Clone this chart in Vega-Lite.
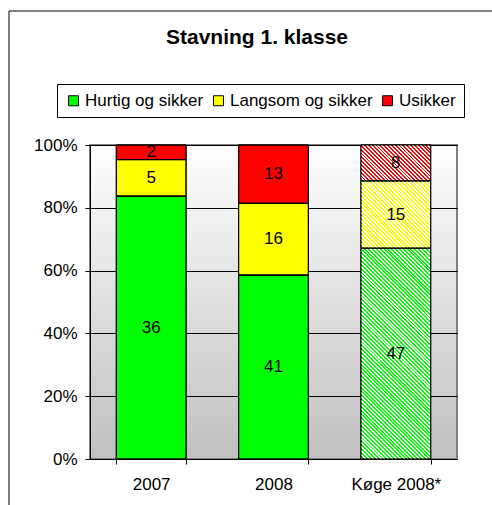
{
  "$schema": "https://vega.github.io/schema/vega-lite/v6.json",
  "width": 367,
  "height": 314,
  "autosize": {"type": "none"},
  "padding": {"left": 90, "top": 145, "right": 35, "bottom": 46},
  "background": "white",
  "config": {"font": "Liberation Sans"},
  "title": {"text": "Stavning 1. klasse", "fontSize": 21, "fontWeight": "bold", "color": "black", "anchor": "middle", "frame": "group", "dx": -16.5, "offset": -38},
  "data": {"values": [
    {"year": "2007", "category": "Hurtig og sikker", "value": 36},
    {"year": "2007", "category": "Langsom og sikker", "value": 5},
    {"year": "2007", "category": "Usikker", "value": 2},
    {"year": "2008", "category": "Hurtig og sikker", "value": 41},
    {"year": "2008", "category": "Langsom og sikker", "value": 16},
    {"year": "2008", "category": "Usikker", "value": 13},
    {"year": "Køge 2008*", "category": "Hurtig og sikker", "value": 47},
    {"year": "Køge 2008*", "category": "Langsom og sikker", "value": 15},
    {"year": "Køge 2008*", "category": "Usikker", "value": 8}
  ]},
  "view": {
    "fill": {"gradient": "linear", "x1": 0, "y1": 0, "x2": 0, "y2": 1, "stops": [{"offset": 0, "color": "#ffffff"}, {"offset": 1, "color": "#c0c0c0"}]},
    "stroke": "#808080",
    "strokeWidth": 2
  },
  "layer": [
    {
      "mark": {"type": "bar", "stroke": "black", "strokeWidth": 1},
      "encoding": {
        "x": {"field": "year", "type": "nominal", "sort": null, "title": null, "scale": {"domain": ["2007", "2008", "Køge 2008*"], "paddingInner": 0.43, "paddingOuter": 0.215},
          "axis": {"title": null, "labelAngle": 0, "tickBand": "extent", "tickSize": 5, "tickColor": "black", "domainColor": "black", "labelFontSize": 17, "labelColor": "black", "labelPadding": 12, "grid": false}},
        "y": {"field": "value", "type": "quantitative", "stack": "normalize", "title": null, "scale": {"domain": [0, 1], "nice": false},
          "axis": {"title": null, "format": ".0%", "values": [0, 0.1, 0.2, 0.3, 0.4, 0.5, 0.6, 0.7, 0.8, 0.9, 1], "tickCount": 10, "labelOverlap": false, "tickSize": 5, "tickColor": "black", "domainColor": "black", "labelFontSize": 17, "labelColor": "black", "labelPadding": 8, "grid": true, "gridOpacity": 1, "gridColor": "#000000", "gridWidth": 1}},
        "color": {"field": "category", "type": "nominal",
          "scale": {"domain": ["Hurtig og sikker", "Langsom og sikker", "Usikker"], "range": ["#00ff00", "#ffff00", "#ff0000"]},
          "legend": {"orient": "none", "legendX": -33, "legendY": -61, "direction": "horizontal", "title": null, "strokeColor": "black", "fillColor": "white", "padding": 8, "symbolType": "square", "symbolSize": 100, "symbolStrokeColor": "black", "symbolStrokeWidth": 1, "labelFontSize": 17, "labelColor": "black", "labelOffset": 3, "columnPadding": 6}},
        "order": {"field": "category", "type": "nominal", "sort": "ascending"}
      }
    },
    {
      "transform": [
        {"filter": "datum.year === 'Køge 2008*'"},
        {"aggregate": [{"op": "sum", "field": "value", "as": "total"}], "groupby": ["year"]}
      ],
      "mark": {"type": "bar", "fill": {"gradient": "linear", "x1": 0, "y1": 1, "x2": 0.2587, "y2": -0.1646, "stops": [
{"offset":0,"color":"#fff"},{"offset":0.005,"color":"#fff"},{"offset":0.005,"color":"rgba(255,255,255,0)"},{"offset":0.01,"color":"rgba(255,255,255,0)"},
{"offset":0.01,"color":"#fff"},{"offset":0.015,"color":"#fff"},{"offset":0.015,"color":"rgba(255,255,255,0)"},{"offset":0.02,"color":"rgba(255,255,255,0)"},
{"offset":0.02,"color":"#fff"},{"offset":0.025,"color":"#fff"},{"offset":0.025,"color":"rgba(255,255,255,0)"},{"offset":0.03,"color":"rgba(255,255,255,0)"},
{"offset":0.03,"color":"#fff"},{"offset":0.035,"color":"#fff"},{"offset":0.035,"color":"rgba(255,255,255,0)"},{"offset":0.04,"color":"rgba(255,255,255,0)"},
{"offset":0.04,"color":"#fff"},{"offset":0.045,"color":"#fff"},{"offset":0.045,"color":"rgba(255,255,255,0)"},{"offset":0.05,"color":"rgba(255,255,255,0)"},
{"offset":0.05,"color":"#fff"},{"offset":0.055,"color":"#fff"},{"offset":0.055,"color":"rgba(255,255,255,0)"},{"offset":0.06,"color":"rgba(255,255,255,0)"},
{"offset":0.06,"color":"#fff"},{"offset":0.065,"color":"#fff"},{"offset":0.065,"color":"rgba(255,255,255,0)"},{"offset":0.07,"color":"rgba(255,255,255,0)"},
{"offset":0.07,"color":"#fff"},{"offset":0.075,"color":"#fff"},{"offset":0.075,"color":"rgba(255,255,255,0)"},{"offset":0.08,"color":"rgba(255,255,255,0)"},
{"offset":0.08,"color":"#fff"},{"offset":0.085,"color":"#fff"},{"offset":0.085,"color":"rgba(255,255,255,0)"},{"offset":0.09,"color":"rgba(255,255,255,0)"},
{"offset":0.09,"color":"#fff"},{"offset":0.095,"color":"#fff"},{"offset":0.095,"color":"rgba(255,255,255,0)"},{"offset":0.1,"color":"rgba(255,255,255,0)"},
{"offset":0.1,"color":"#fff"},{"offset":0.105,"color":"#fff"},{"offset":0.105,"color":"rgba(255,255,255,0)"},{"offset":0.11,"color":"rgba(255,255,255,0)"},
{"offset":0.11,"color":"#fff"},{"offset":0.115,"color":"#fff"},{"offset":0.115,"color":"rgba(255,255,255,0)"},{"offset":0.12,"color":"rgba(255,255,255,0)"},
{"offset":0.12,"color":"#fff"},{"offset":0.125,"color":"#fff"},{"offset":0.125,"color":"rgba(255,255,255,0)"},{"offset":0.13,"color":"rgba(255,255,255,0)"},
{"offset":0.13,"color":"#fff"},{"offset":0.135,"color":"#fff"},{"offset":0.135,"color":"rgba(255,255,255,0)"},{"offset":0.14,"color":"rgba(255,255,255,0)"},
{"offset":0.14,"color":"#fff"},{"offset":0.145,"color":"#fff"},{"offset":0.145,"color":"rgba(255,255,255,0)"},{"offset":0.15,"color":"rgba(255,255,255,0)"},
{"offset":0.15,"color":"#fff"},{"offset":0.155,"color":"#fff"},{"offset":0.155,"color":"rgba(255,255,255,0)"},{"offset":0.16,"color":"rgba(255,255,255,0)"},
{"offset":0.16,"color":"#fff"},{"offset":0.165,"color":"#fff"},{"offset":0.165,"color":"rgba(255,255,255,0)"},{"offset":0.17,"color":"rgba(255,255,255,0)"},
{"offset":0.17,"color":"#fff"},{"offset":0.175,"color":"#fff"},{"offset":0.175,"color":"rgba(255,255,255,0)"},{"offset":0.18,"color":"rgba(255,255,255,0)"},
{"offset":0.18,"color":"#fff"},{"offset":0.185,"color":"#fff"},{"offset":0.185,"color":"rgba(255,255,255,0)"},{"offset":0.19,"color":"rgba(255,255,255,0)"},
{"offset":0.19,"color":"#fff"},{"offset":0.195,"color":"#fff"},{"offset":0.195,"color":"rgba(255,255,255,0)"},{"offset":0.2,"color":"rgba(255,255,255,0)"},
{"offset":0.2,"color":"#fff"},{"offset":0.205,"color":"#fff"},{"offset":0.205,"color":"rgba(255,255,255,0)"},{"offset":0.21,"color":"rgba(255,255,255,0)"},
{"offset":0.21,"color":"#fff"},{"offset":0.215,"color":"#fff"},{"offset":0.215,"color":"rgba(255,255,255,0)"},{"offset":0.22,"color":"rgba(255,255,255,0)"},
{"offset":0.22,"color":"#fff"},{"offset":0.225,"color":"#fff"},{"offset":0.225,"color":"rgba(255,255,255,0)"},{"offset":0.23,"color":"rgba(255,255,255,0)"},
{"offset":0.23,"color":"#fff"},{"offset":0.235,"color":"#fff"},{"offset":0.235,"color":"rgba(255,255,255,0)"},{"offset":0.24,"color":"rgba(255,255,255,0)"},
{"offset":0.24,"color":"#fff"},{"offset":0.245,"color":"#fff"},{"offset":0.245,"color":"rgba(255,255,255,0)"},{"offset":0.25,"color":"rgba(255,255,255,0)"},
{"offset":0.25,"color":"#fff"},{"offset":0.255,"color":"#fff"},{"offset":0.255,"color":"rgba(255,255,255,0)"},{"offset":0.26,"color":"rgba(255,255,255,0)"},
{"offset":0.26,"color":"#fff"},{"offset":0.265,"color":"#fff"},{"offset":0.265,"color":"rgba(255,255,255,0)"},{"offset":0.27,"color":"rgba(255,255,255,0)"},
{"offset":0.27,"color":"#fff"},{"offset":0.275,"color":"#fff"},{"offset":0.275,"color":"rgba(255,255,255,0)"},{"offset":0.28,"color":"rgba(255,255,255,0)"},
{"offset":0.28,"color":"#fff"},{"offset":0.285,"color":"#fff"},{"offset":0.285,"color":"rgba(255,255,255,0)"},{"offset":0.29,"color":"rgba(255,255,255,0)"},
{"offset":0.29,"color":"#fff"},{"offset":0.295,"color":"#fff"},{"offset":0.295,"color":"rgba(255,255,255,0)"},{"offset":0.3,"color":"rgba(255,255,255,0)"},
{"offset":0.3,"color":"#fff"},{"offset":0.305,"color":"#fff"},{"offset":0.305,"color":"rgba(255,255,255,0)"},{"offset":0.31,"color":"rgba(255,255,255,0)"},
{"offset":0.31,"color":"#fff"},{"offset":0.315,"color":"#fff"},{"offset":0.315,"color":"rgba(255,255,255,0)"},{"offset":0.32,"color":"rgba(255,255,255,0)"},
{"offset":0.32,"color":"#fff"},{"offset":0.325,"color":"#fff"},{"offset":0.325,"color":"rgba(255,255,255,0)"},{"offset":0.33,"color":"rgba(255,255,255,0)"},
{"offset":0.33,"color":"#fff"},{"offset":0.335,"color":"#fff"},{"offset":0.335,"color":"rgba(255,255,255,0)"},{"offset":0.34,"color":"rgba(255,255,255,0)"},
{"offset":0.34,"color":"#fff"},{"offset":0.345,"color":"#fff"},{"offset":0.345,"color":"rgba(255,255,255,0)"},{"offset":0.35,"color":"rgba(255,255,255,0)"},
{"offset":0.35,"color":"#fff"},{"offset":0.355,"color":"#fff"},{"offset":0.355,"color":"rgba(255,255,255,0)"},{"offset":0.36,"color":"rgba(255,255,255,0)"},
{"offset":0.36,"color":"#fff"},{"offset":0.365,"color":"#fff"},{"offset":0.365,"color":"rgba(255,255,255,0)"},{"offset":0.37,"color":"rgba(255,255,255,0)"},
{"offset":0.37,"color":"#fff"},{"offset":0.375,"color":"#fff"},{"offset":0.375,"color":"rgba(255,255,255,0)"},{"offset":0.38,"color":"rgba(255,255,255,0)"},
{"offset":0.38,"color":"#fff"},{"offset":0.385,"color":"#fff"},{"offset":0.385,"color":"rgba(255,255,255,0)"},{"offset":0.39,"color":"rgba(255,255,255,0)"},
{"offset":0.39,"color":"#fff"},{"offset":0.395,"color":"#fff"},{"offset":0.395,"color":"rgba(255,255,255,0)"},{"offset":0.4,"color":"rgba(255,255,255,0)"},
{"offset":0.4,"color":"#fff"},{"offset":0.405,"color":"#fff"},{"offset":0.405,"color":"rgba(255,255,255,0)"},{"offset":0.41,"color":"rgba(255,255,255,0)"},
{"offset":0.41,"color":"#fff"},{"offset":0.415,"color":"#fff"},{"offset":0.415,"color":"rgba(255,255,255,0)"},{"offset":0.42,"color":"rgba(255,255,255,0)"},
{"offset":0.42,"color":"#fff"},{"offset":0.425,"color":"#fff"},{"offset":0.425,"color":"rgba(255,255,255,0)"},{"offset":0.43,"color":"rgba(255,255,255,0)"},
{"offset":0.43,"color":"#fff"},{"offset":0.435,"color":"#fff"},{"offset":0.435,"color":"rgba(255,255,255,0)"},{"offset":0.44,"color":"rgba(255,255,255,0)"},
{"offset":0.44,"color":"#fff"},{"offset":0.445,"color":"#fff"},{"offset":0.445,"color":"rgba(255,255,255,0)"},{"offset":0.45,"color":"rgba(255,255,255,0)"},
{"offset":0.45,"color":"#fff"},{"offset":0.455,"color":"#fff"},{"offset":0.455,"color":"rgba(255,255,255,0)"},{"offset":0.46,"color":"rgba(255,255,255,0)"},
{"offset":0.46,"color":"#fff"},{"offset":0.465,"color":"#fff"},{"offset":0.465,"color":"rgba(255,255,255,0)"},{"offset":0.47,"color":"rgba(255,255,255,0)"},
{"offset":0.47,"color":"#fff"},{"offset":0.475,"color":"#fff"},{"offset":0.475,"color":"rgba(255,255,255,0)"},{"offset":0.48,"color":"rgba(255,255,255,0)"},
{"offset":0.48,"color":"#fff"},{"offset":0.485,"color":"#fff"},{"offset":0.485,"color":"rgba(255,255,255,0)"},{"offset":0.49,"color":"rgba(255,255,255,0)"},
{"offset":0.49,"color":"#fff"},{"offset":0.495,"color":"#fff"},{"offset":0.495,"color":"rgba(255,255,255,0)"},{"offset":0.5,"color":"rgba(255,255,255,0)"},
{"offset":0.5,"color":"#fff"},{"offset":0.505,"color":"#fff"},{"offset":0.505,"color":"rgba(255,255,255,0)"},{"offset":0.51,"color":"rgba(255,255,255,0)"},
{"offset":0.51,"color":"#fff"},{"offset":0.515,"color":"#fff"},{"offset":0.515,"color":"rgba(255,255,255,0)"},{"offset":0.52,"color":"rgba(255,255,255,0)"},
{"offset":0.52,"color":"#fff"},{"offset":0.525,"color":"#fff"},{"offset":0.525,"color":"rgba(255,255,255,0)"},{"offset":0.53,"color":"rgba(255,255,255,0)"},
{"offset":0.53,"color":"#fff"},{"offset":0.535,"color":"#fff"},{"offset":0.535,"color":"rgba(255,255,255,0)"},{"offset":0.54,"color":"rgba(255,255,255,0)"},
{"offset":0.54,"color":"#fff"},{"offset":0.545,"color":"#fff"},{"offset":0.545,"color":"rgba(255,255,255,0)"},{"offset":0.55,"color":"rgba(255,255,255,0)"},
{"offset":0.55,"color":"#fff"},{"offset":0.555,"color":"#fff"},{"offset":0.555,"color":"rgba(255,255,255,0)"},{"offset":0.56,"color":"rgba(255,255,255,0)"},
{"offset":0.56,"color":"#fff"},{"offset":0.565,"color":"#fff"},{"offset":0.565,"color":"rgba(255,255,255,0)"},{"offset":0.57,"color":"rgba(255,255,255,0)"},
{"offset":0.57,"color":"#fff"},{"offset":0.575,"color":"#fff"},{"offset":0.575,"color":"rgba(255,255,255,0)"},{"offset":0.58,"color":"rgba(255,255,255,0)"},
{"offset":0.58,"color":"#fff"},{"offset":0.585,"color":"#fff"},{"offset":0.585,"color":"rgba(255,255,255,0)"},{"offset":0.59,"color":"rgba(255,255,255,0)"},
{"offset":0.59,"color":"#fff"},{"offset":0.595,"color":"#fff"},{"offset":0.595,"color":"rgba(255,255,255,0)"},{"offset":0.6,"color":"rgba(255,255,255,0)"},
{"offset":0.6,"color":"#fff"},{"offset":0.605,"color":"#fff"},{"offset":0.605,"color":"rgba(255,255,255,0)"},{"offset":0.61,"color":"rgba(255,255,255,0)"},
{"offset":0.61,"color":"#fff"},{"offset":0.615,"color":"#fff"},{"offset":0.615,"color":"rgba(255,255,255,0)"},{"offset":0.62,"color":"rgba(255,255,255,0)"},
{"offset":0.62,"color":"#fff"},{"offset":0.625,"color":"#fff"},{"offset":0.625,"color":"rgba(255,255,255,0)"},{"offset":0.63,"color":"rgba(255,255,255,0)"},
{"offset":0.63,"color":"#fff"},{"offset":0.635,"color":"#fff"},{"offset":0.635,"color":"rgba(255,255,255,0)"},{"offset":0.64,"color":"rgba(255,255,255,0)"},
{"offset":0.64,"color":"#fff"},{"offset":0.645,"color":"#fff"},{"offset":0.645,"color":"rgba(255,255,255,0)"},{"offset":0.65,"color":"rgba(255,255,255,0)"},
{"offset":0.65,"color":"#fff"},{"offset":0.655,"color":"#fff"},{"offset":0.655,"color":"rgba(255,255,255,0)"},{"offset":0.66,"color":"rgba(255,255,255,0)"},
{"offset":0.66,"color":"#fff"},{"offset":0.665,"color":"#fff"},{"offset":0.665,"color":"rgba(255,255,255,0)"},{"offset":0.67,"color":"rgba(255,255,255,0)"},
{"offset":0.67,"color":"#fff"},{"offset":0.675,"color":"#fff"},{"offset":0.675,"color":"rgba(255,255,255,0)"},{"offset":0.68,"color":"rgba(255,255,255,0)"},
{"offset":0.68,"color":"#fff"},{"offset":0.685,"color":"#fff"},{"offset":0.685,"color":"rgba(255,255,255,0)"},{"offset":0.69,"color":"rgba(255,255,255,0)"},
{"offset":0.69,"color":"#fff"},{"offset":0.695,"color":"#fff"},{"offset":0.695,"color":"rgba(255,255,255,0)"},{"offset":0.7,"color":"rgba(255,255,255,0)"},
{"offset":0.7,"color":"#fff"},{"offset":0.705,"color":"#fff"},{"offset":0.705,"color":"rgba(255,255,255,0)"},{"offset":0.71,"color":"rgba(255,255,255,0)"},
{"offset":0.71,"color":"#fff"},{"offset":0.715,"color":"#fff"},{"offset":0.715,"color":"rgba(255,255,255,0)"},{"offset":0.72,"color":"rgba(255,255,255,0)"},
{"offset":0.72,"color":"#fff"},{"offset":0.725,"color":"#fff"},{"offset":0.725,"color":"rgba(255,255,255,0)"},{"offset":0.73,"color":"rgba(255,255,255,0)"},
{"offset":0.73,"color":"#fff"},{"offset":0.735,"color":"#fff"},{"offset":0.735,"color":"rgba(255,255,255,0)"},{"offset":0.74,"color":"rgba(255,255,255,0)"},
{"offset":0.74,"color":"#fff"},{"offset":0.745,"color":"#fff"},{"offset":0.745,"color":"rgba(255,255,255,0)"},{"offset":0.75,"color":"rgba(255,255,255,0)"},
{"offset":0.75,"color":"#fff"},{"offset":0.755,"color":"#fff"},{"offset":0.755,"color":"rgba(255,255,255,0)"},{"offset":0.76,"color":"rgba(255,255,255,0)"},
{"offset":0.76,"color":"#fff"},{"offset":0.765,"color":"#fff"},{"offset":0.765,"color":"rgba(255,255,255,0)"},{"offset":0.77,"color":"rgba(255,255,255,0)"},
{"offset":0.77,"color":"#fff"},{"offset":0.775,"color":"#fff"},{"offset":0.775,"color":"rgba(255,255,255,0)"},{"offset":0.78,"color":"rgba(255,255,255,0)"},
{"offset":0.78,"color":"#fff"},{"offset":0.785,"color":"#fff"},{"offset":0.785,"color":"rgba(255,255,255,0)"},{"offset":0.79,"color":"rgba(255,255,255,0)"},
{"offset":0.79,"color":"#fff"},{"offset":0.795,"color":"#fff"},{"offset":0.795,"color":"rgba(255,255,255,0)"},{"offset":0.8,"color":"rgba(255,255,255,0)"},
{"offset":0.8,"color":"#fff"},{"offset":0.805,"color":"#fff"},{"offset":0.805,"color":"rgba(255,255,255,0)"},{"offset":0.81,"color":"rgba(255,255,255,0)"},
{"offset":0.81,"color":"#fff"},{"offset":0.815,"color":"#fff"},{"offset":0.815,"color":"rgba(255,255,255,0)"},{"offset":0.82,"color":"rgba(255,255,255,0)"},
{"offset":0.82,"color":"#fff"},{"offset":0.825,"color":"#fff"},{"offset":0.825,"color":"rgba(255,255,255,0)"},{"offset":0.83,"color":"rgba(255,255,255,0)"},
{"offset":0.83,"color":"#fff"},{"offset":0.835,"color":"#fff"},{"offset":0.835,"color":"rgba(255,255,255,0)"},{"offset":0.84,"color":"rgba(255,255,255,0)"},
{"offset":0.84,"color":"#fff"},{"offset":0.845,"color":"#fff"},{"offset":0.845,"color":"rgba(255,255,255,0)"},{"offset":0.85,"color":"rgba(255,255,255,0)"},
{"offset":0.85,"color":"#fff"},{"offset":0.855,"color":"#fff"},{"offset":0.855,"color":"rgba(255,255,255,0)"},{"offset":0.86,"color":"rgba(255,255,255,0)"},
{"offset":0.86,"color":"#fff"},{"offset":0.865,"color":"#fff"},{"offset":0.865,"color":"rgba(255,255,255,0)"},{"offset":0.87,"color":"rgba(255,255,255,0)"},
{"offset":0.87,"color":"#fff"},{"offset":0.875,"color":"#fff"},{"offset":0.875,"color":"rgba(255,255,255,0)"},{"offset":0.88,"color":"rgba(255,255,255,0)"},
{"offset":0.88,"color":"#fff"},{"offset":0.885,"color":"#fff"},{"offset":0.885,"color":"rgba(255,255,255,0)"},{"offset":0.89,"color":"rgba(255,255,255,0)"},
{"offset":0.89,"color":"#fff"},{"offset":0.895,"color":"#fff"},{"offset":0.895,"color":"rgba(255,255,255,0)"},{"offset":0.9,"color":"rgba(255,255,255,0)"},
{"offset":0.9,"color":"#fff"},{"offset":0.905,"color":"#fff"},{"offset":0.905,"color":"rgba(255,255,255,0)"},{"offset":0.91,"color":"rgba(255,255,255,0)"},
{"offset":0.91,"color":"#fff"},{"offset":0.915,"color":"#fff"},{"offset":0.915,"color":"rgba(255,255,255,0)"},{"offset":0.92,"color":"rgba(255,255,255,0)"},
{"offset":0.92,"color":"#fff"},{"offset":0.925,"color":"#fff"},{"offset":0.925,"color":"rgba(255,255,255,0)"},{"offset":0.93,"color":"rgba(255,255,255,0)"},
{"offset":0.93,"color":"#fff"},{"offset":0.935,"color":"#fff"},{"offset":0.935,"color":"rgba(255,255,255,0)"},{"offset":0.94,"color":"rgba(255,255,255,0)"},
{"offset":0.94,"color":"#fff"},{"offset":0.945,"color":"#fff"},{"offset":0.945,"color":"rgba(255,255,255,0)"},{"offset":0.95,"color":"rgba(255,255,255,0)"},
{"offset":0.95,"color":"#fff"},{"offset":0.955,"color":"#fff"},{"offset":0.955,"color":"rgba(255,255,255,0)"},{"offset":0.96,"color":"rgba(255,255,255,0)"},
{"offset":0.96,"color":"#fff"},{"offset":0.965,"color":"#fff"},{"offset":0.965,"color":"rgba(255,255,255,0)"},{"offset":0.97,"color":"rgba(255,255,255,0)"},
{"offset":0.97,"color":"#fff"},{"offset":0.975,"color":"#fff"},{"offset":0.975,"color":"rgba(255,255,255,0)"},{"offset":0.98,"color":"rgba(255,255,255,0)"},
{"offset":0.98,"color":"#fff"},{"offset":0.985,"color":"#fff"},{"offset":0.985,"color":"rgba(255,255,255,0)"},{"offset":0.99,"color":"rgba(255,255,255,0)"},
{"offset":0.99,"color":"#fff"},{"offset":0.995,"color":"#fff"},{"offset":0.995,"color":"rgba(255,255,255,0)"},{"offset":1,"color":"rgba(255,255,255,0)"}
      ]}},
      "encoding": {
        "x": {"field": "year", "type": "nominal", "sort": null, "title": null},
        "y": {"field": "total", "type": "quantitative", "stack": "normalize", "title": null,
          "axis": {"title": null, "format": ".0%", "values": [0, 0.1, 0.2, 0.3, 0.4, 0.5, 0.6, 0.7, 0.8, 0.9, 1], "tickCount": 10, "labelOverlap": false, "tickSize": 5, "tickColor": "black", "domainColor": "black", "labelFontSize": 17, "labelColor": "black", "labelPadding": 8, "grid": true, "gridOpacity": 1, "gridColor": "#000000", "gridWidth": 1}}
      }
    },
    {
      "mark": {"type": "bar", "filled": false, "stroke": "black", "strokeWidth": 1},
      "encoding": {
        "x": {"field": "year", "type": "nominal", "sort": null, "title": null},
        "y": {"field": "value", "type": "quantitative", "stack": "normalize", "title": null,
          "axis": {"title": null, "format": ".0%", "values": [0, 0.1, 0.2, 0.3, 0.4, 0.5, 0.6, 0.7, 0.8, 0.9, 1], "tickCount": 10, "labelOverlap": false, "tickSize": 5, "tickColor": "black", "domainColor": "black", "labelFontSize": 17, "labelColor": "black", "labelPadding": 8, "grid": true, "gridOpacity": 1, "gridColor": "#000000", "gridWidth": 1}},
        "detail": {"field": "category", "type": "nominal"},
        "order": {"field": "category", "type": "nominal", "sort": "ascending"}
      }
    },
    {
      "transform": [
        {"stack": "value", "groupby": ["year"], "sort": [{"field": "category", "order": "ascending"}], "offset": "normalize", "as": ["v0", "v1"]},
        {"calculate": "(datum.v0 + datum.v1) / 2", "as": "mid"}
      ],
      "mark": {"type": "text", "fontSize": 17, "color": "black", "align": "center", "baseline": "middle"},
      "encoding": {
        "x": {"field": "year", "type": "nominal", "sort": null, "title": null},
        "y": {"field": "mid", "type": "quantitative", "title": null,
          "axis": {"title": null, "format": ".0%", "values": [0, 0.1, 0.2, 0.3, 0.4, 0.5, 0.6, 0.7, 0.8, 0.9, 1], "tickCount": 10, "labelOverlap": false, "tickSize": 5, "tickColor": "black", "domainColor": "black", "labelFontSize": 17, "labelColor": "black", "labelPadding": 8, "grid": true, "gridOpacity": 1, "gridColor": "#000000", "gridWidth": 1}},
        "text": {"field": "value", "type": "quantitative"}
      }
    },
    {
      "mark": {"type": "point", "opacity": 0},
      "encoding": {
        "x": {"field": "year", "type": "nominal", "sort": null, "title": null},
        "y": {"field": "value", "type": "quantitative", "stack": "normalize", "title": null,
          "axis": {"title": null, "format": ".0%", "values": [0, 0.1, 0.2, 0.3, 0.4, 0.5, 0.6, 0.7, 0.8, 0.9, 1], "tickCount": 10, "labelOverlap": false, "tickSize": 5, "tickColor": "black", "domainColor": "black", "labelFontSize": 17, "labelColor": "black", "labelPadding": 8, "grid": true, "gridOpacity": 1, "gridColor": "#000000", "gridWidth": 1}},
        "shape": {"datum": "frame", "type": "nominal",
          "legend": {"orient": "none", "legendX": -81.5, "legendY": -134.5, "title": null, "strokeColor": "black", "fillColor": null, "padding": 260, "symbolOpacity": 0, "labelOpacity": 0, "symbolSize": 4, "labelFontSize": 2}}
      }
    }
  ]
}
